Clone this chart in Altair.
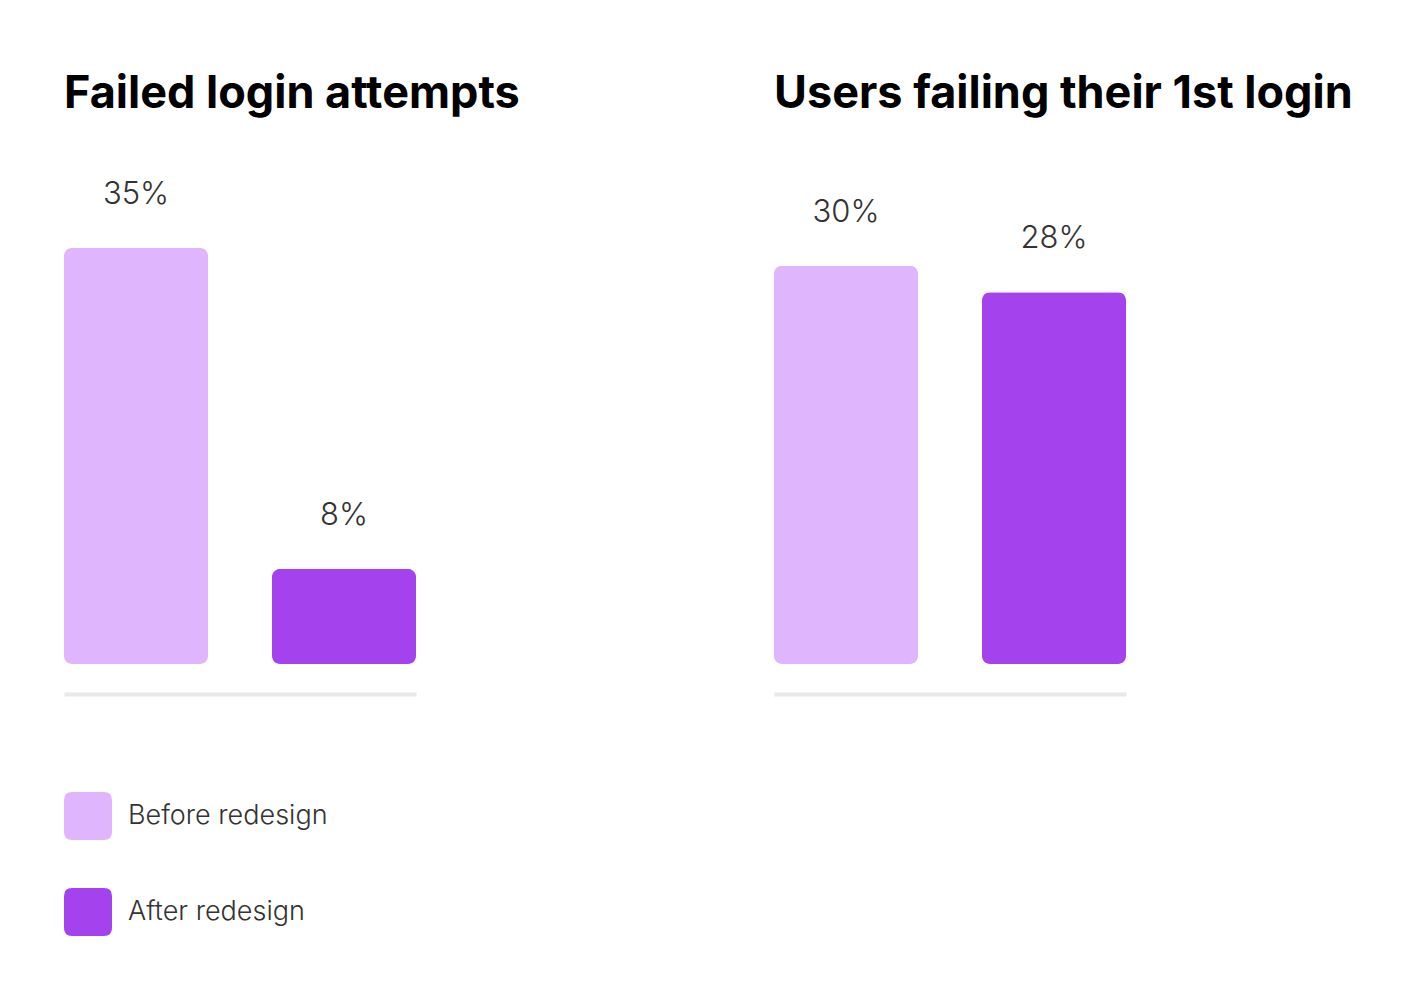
import altair as alt
import pandas as pd

# ---- data ----
groups = ["Before redesign", "After redesign"]
colors = ["#DFB5FD", "#A442EE"]

left_title = "Failed login attempts"
left_values = [35, 8]

right_title = "Users failing their 1st login"
right_values = [30, 28]

# rounded square legend symbol (unit box -1..1)
ROUNDED = ("M -0.667 -1 L 0.667 -1 Q 1 -1 1 -0.667 L 1 0.667 Q 1 1 0.667 1 "
           "L -0.667 1 Q -1 1 -1 0.667 L -1 -0.667 Q -1 -1 -0.667 -1 Z")

TITLE_FONT = "Inter"
BODY_FONT = "Inter"

legend = alt.Legend(
    title=None, orient="none", legendX=0, legendY=639, direction="vertical",
    symbolType=ROUNDED, symbolSize=2304, symbolStrokeWidth=0, symbolOpacity=1,
    labelFont=BODY_FONT, labelFontSize=27, labelFontWeight=300, labelLimit=500,
    labelColor="#333333", labelOffset=16, rowPadding=48, padding=0,
)


def panel(title, values, ymax):
    df = pd.DataFrame({
        "group": groups,
        "value": values,
        "label": [f"{v}%" for v in values],
    })
    base = alt.Chart(df).encode(
        x=alt.X(
            "group:N", sort=groups,
            scale=alt.Scale(domain=groups, paddingInner=64 / 208, paddingOuter=0),
            axis=alt.Axis(labels=False, ticks=False, title=None, grid=False,
                          domain=True, domainColor="#E8E8E8", domainWidth=4,
                          offset=30),
        ),
        y=alt.Y("value:Q", scale=alt.Scale(domain=[0, ymax], nice=False, zero=True),
                axis=None),
    )
    bars = base.mark_bar(cornerRadius=8).encode(
        color=alt.Color("group:N", sort=groups,
                        scale=alt.Scale(domain=groups, range=colors),
                        legend=legend),
    )
    text = base.mark_text(
        baseline="alphabetic", align="center", dy=-44,
        font=BODY_FONT, fontSize=31, fontWeight=300, color="#333333",
    ).encode(text="label:N")
    return alt.layer(bars, text).properties(
        width=352, height=511,
        title=alt.TitleParams(
            text=title, anchor="start", frame="group", orient="top",
            baseline="alphabetic", offset=0,
            font=TITLE_FONT, fontSize=45, fontWeight=700, color="#000000",
        ),
    )


left = panel(left_title, left_values, 43.0)
right = panel(right_title, right_values, 38.5)

chart = (
    alt.hconcat(left, right, spacing=358, bounds="flush")
    .resolve_scale(y="independent", color="shared")
    .configure_view(stroke=None)
    .properties(
        background="white",
        padding={"left": 64, "top": 72, "right": 10, "bottom": 10},
    )
)

chart.save("out.html", embed_options={"renderer": "svg", "actions": False})
